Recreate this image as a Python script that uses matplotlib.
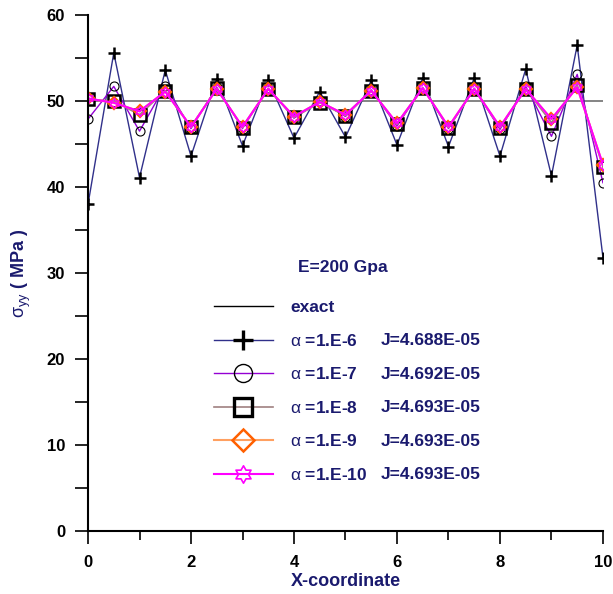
import numpy as np
import matplotlib.pyplot as plt
from matplotlib.path import Path
from matplotlib.lines import Line2D

plt.rcParams['font.family'] = ['Liberation Sans', 'DejaVu Sans']
plt.rcParams['mathtext.fontset'] = 'custom'
plt.rcParams['mathtext.rm'] = 'Liberation Sans'
plt.rcParams['mathtext.it'] = 'Liberation Sans'

# data
x = np.arange(0, 10.01, 0.5)
exact = 50.0
s_e6 = [38.0, 55.6, 41.1, 53.6, 43.6, 52.6, 44.8, 52.4, 45.7, 51.1, 45.8,
        52.4, 44.9, 52.7, 44.7, 52.7, 43.6, 53.7, 41.3, 56.5, 31.8]
s_e7 = [47.9, 51.7, 46.5, 51.8, 46.8, 51.6, 46.8, 51.5, 48.0, 50.0, 48.2,
        51.3, 47.1, 51.6, 46.8, 51.5, 46.7, 51.7, 45.9, 53.1, 40.5]
s_e8 = [50.2, 50.0, 48.4, 51.2, 47.0, 51.5, 46.9, 51.4, 48.1, 49.8, 48.3,
        51.2, 47.3, 51.5, 46.9, 51.4, 46.9, 51.4, 47.5, 51.9, 42.3]
s_e9 = [50.3, 49.8, 48.8, 51.1, 47.0, 51.4, 47.0, 51.4, 48.2, 49.9, 48.4,
        51.2, 47.4, 51.5, 47.0, 51.4, 47.0, 51.4, 47.9, 51.6, 42.6]
s_e10 = [50.3, 49.8, 48.8, 51.1, 47.0, 51.4, 47.0, 51.4, 48.2, 49.9, 48.4,
         51.2, 47.4, 51.5, 47.0, 51.4, 47.0, 51.4, 47.9, 51.6, 42.6]
alpha_labels = [r'$\alpha$ =1.E-6', r'$\alpha$ =1.E-7', r'$\alpha$ =1.E-8',
                r'$\alpha$ =1.E-9', r'$\alpha$ =1.E-10']
j_labels = ['J=4.688E-05', 'J=4.692E-05', 'J=4.693E-05', 'J=4.693E-05', 'J=4.693E-05']

navy = '#1a1a6e'

# six pointed star outline
ang = np.pi / 2 + np.arange(12) * np.pi / 6
rad = np.where(np.arange(12) % 2 == 0, 1.0, 0.577)
verts = np.column_stack([rad * np.cos(ang), rad * np.sin(ang)])
verts = np.vstack([verts, verts[:1]])
hexstar = Path(verts, closed=True)

styles = [
    dict(color='#30308a', lw=1.0, marker='+', ms=8.5, mec='black', mew=1.8, mfc='none'),
    dict(color='#9400d3', lw=1.0, marker='o', ms=6.5, mec='black', mew=0.8, mfc='none'),
    dict(color='#a08080', lw=1.2, marker='s', ms=8.5, mec='black', mew=1.8, mfc='none'),
    dict(color='#ffa060', lw=1.5, marker='D', ms=6, mec='#ff6000', mew=1.6, mfc='none'),
    dict(color='#ff00ff', lw=1.5, marker=hexstar, ms=7.5, mec='#ff00ff', mew=1.0, mfc='none'),
]
series = [s_e6, s_e7, s_e8, s_e9, s_e10]

fig = plt.figure(figsize=(6.13, 5.94), dpi=100)
ax = fig.add_axes([0.1436, 0.106, 0.84, 0.8687])

ax.axhline(exact, color='#707070', lw=1.2, zorder=1)
for s, st in zip(series, styles):
    ax.plot(x, s, **st)

ax.set_xlim(0, 10)
ax.set_ylim(0, 60)
ax.set_xticks(np.arange(0, 11, 2))
ax.set_xticks(np.arange(0, 11, 1), minor=True)
ax.set_yticks(np.arange(0, 61, 10))
ax.set_yticks(np.arange(0, 61, 5), minor=True)
ax.spines['top'].set_visible(False)
ax.spines['right'].set_visible(False)
ax.spines['left'].set_linewidth(1.5)
ax.spines['bottom'].set_linewidth(1.5)
ax.tick_params(axis='both', which='major', direction='out', length=9.4, width=1.2,
               labelsize=12)
ax.tick_params(axis='x', which='minor', direction='out', length=6.5, width=1.2)
ax.tick_params(axis='y', which='minor', direction='out', length=9.4, width=1.2)
for lab in ax.get_xticklabels() + ax.get_yticklabels():
    lab.set_fontweight('bold')
ax.tick_params(axis='x', pad=8)
ax.tick_params(axis='y', pad=7)

ax.set_xlabel('X-coordinate', color=navy, fontsize=13, fontweight='bold', labelpad=2)
ax.set_ylabel(r'$\sigma_{yy}$ ( MPa )', color=navy, fontsize=13, fontweight='bold',
              labelpad=10)

ax.text(0.408, 0.51, 'E=200 Gpa', transform=ax.transAxes, color=navy,
        fontsize=12.5, fontweight='bold', ha='left', va='center')

handles = [Line2D([], [], color='black', lw=1.0)]
leg_ms = [14, 13, 13, 11, 12.5]
for st, m in zip(styles, leg_ms):
    d = dict(st)
    d['ms'] = m
    d['mew'] = st['mew'] + (0.6 if st['marker'] in ('+', 's') else 0.2)
    handles.append(Line2D([], [], **d))
labels = ['exact'] + alpha_labels
leg = ax.legend(handles, labels, loc='upper left', bbox_to_anchor=(0.231, 0.461),
                frameon=False, fontsize=12.5, handlelength=3.4, handletextpad=1.0,
                labelspacing=1.01, borderaxespad=0)
for t in leg.get_texts():
    t.set_color(navy)
    t.set_fontweight('bold')

fig.canvas.draw()
H = fig.get_size_inches()[1] * fig.dpi
for t, jl in zip(leg.get_texts()[1:], j_labels):
    bb = t.get_window_extent()
    fig.text(381 / 613, (bb.y0 + bb.y1) / 2 / H, jl, color=navy, fontsize=12.5,
             fontweight='bold', ha='left', va='center')

fig.savefig('out.png', dpi=100)
